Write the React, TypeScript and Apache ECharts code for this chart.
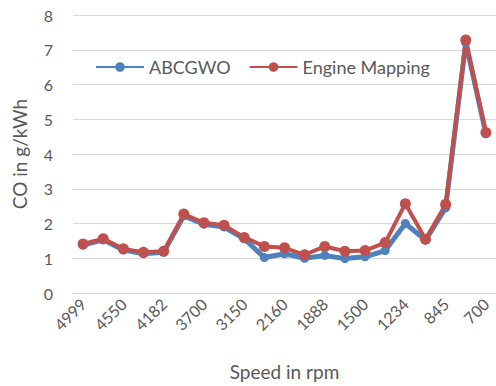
import React, { useEffect, useRef } from "react";
import * as echarts from "echarts";

const categories = ["4999", "4800", "4550", "4400", "4182", "4000", "3700", "3500", "3150", "2500", "2160", "2000", "1888", "1700", "1500", "1350", "1234", "1000", "845", "750", "700"];
const abcgwo = [1.38, 1.53, 1.24, 1.13, 1.17, 2.22, 1.98, 1.9, 1.56, 1.02, 1.13, 1.0, 1.08, 0.99, 1.04, 1.22, 2.0, 1.52, 2.45, 7.2, 4.58];
const engineMapping = [1.41, 1.56, 1.27, 1.17, 1.2, 2.27, 2.02, 1.95, 1.6, 1.34, 1.3, 1.1, 1.34, 1.2, 1.22, 1.45, 2.57, 1.55, 2.55, 7.28, 4.62];

const FONT = "Lato, sans-serif";
const TEXT = "#595959";

export default function App() {
  const ref = useRef<HTMLDivElement>(null);
  useEffect(() => {
    if (!ref.current) return;
    const chart = echarts.init(ref.current, undefined, { renderer: "svg" });
    chart.setOption({
      animation: false,
      textStyle: { fontFamily: FONT, color: TEXT },
      grid: { left: 73, right: 0, top: 15, bottom: 93, outerBoundsMode: "none", containLabel: false },
      legend: {
        left: 90,
        top: 53,
        itemWidth: 48,
        itemHeight: 12,
        itemGap: 18,
        textStyle: { fontFamily: FONT, fontSize: 18, color: TEXT },
        data: ["ABCGWO", "Engine Mapping"],
      },
      xAxis: {
        type: "category",
        data: categories,
        boundaryGap: true,
        axisLine: { show: false },
        axisTick: { show: false },
        axisLabel: {
          interval: 1,
          rotate: 45,
          fontSize: 16,
          color: TEXT,
          fontFamily: FONT,
          margin: 8,
        },
        name: "Speed in rpm",
        nameLocation: "middle",
        nameGap: 69,
        nameTextStyle: { fontSize: 19, color: TEXT, fontFamily: FONT },
      },
      yAxis: {
        type: "value",
        min: 0,
        max: 8,
        interval: 1,
        axisLine: { show: false },
        axisTick: { show: false },
        splitLine: { lineStyle: { color: "#d9d9d9", width: 1 } },
        axisLabel: { fontSize: 16, color: TEXT, fontFamily: FONT, margin: 20 },
        name: "CO in g/kWh",
        nameLocation: "middle",
        nameGap: 44,
        nameRotate: 90,
        nameTextStyle: { fontSize: 19, color: TEXT, fontFamily: FONT },
      },
      series: [
        {
          name: "ABCGWO",
          type: "line",
          data: abcgwo,
          symbol: "circle",
          symbolSize: 9,
          itemStyle: { color: "#4f81bd" },
          lineStyle: { width: 5, color: "#4f81bd" },
        },
        {
          name: "Engine Mapping",
          type: "line",
          data: engineMapping,
          symbol: "circle",
          symbolSize: 11,
          itemStyle: { color: "#c0504d" },
          lineStyle: { width: 4, color: "#c0504d" },
        },
      ],
    });
    return () => chart.dispose();
  }, []);
  return <div ref={ref} style={{ width: 496, height: 386, position: "absolute", left: 0, top: 0 }} />;
}
